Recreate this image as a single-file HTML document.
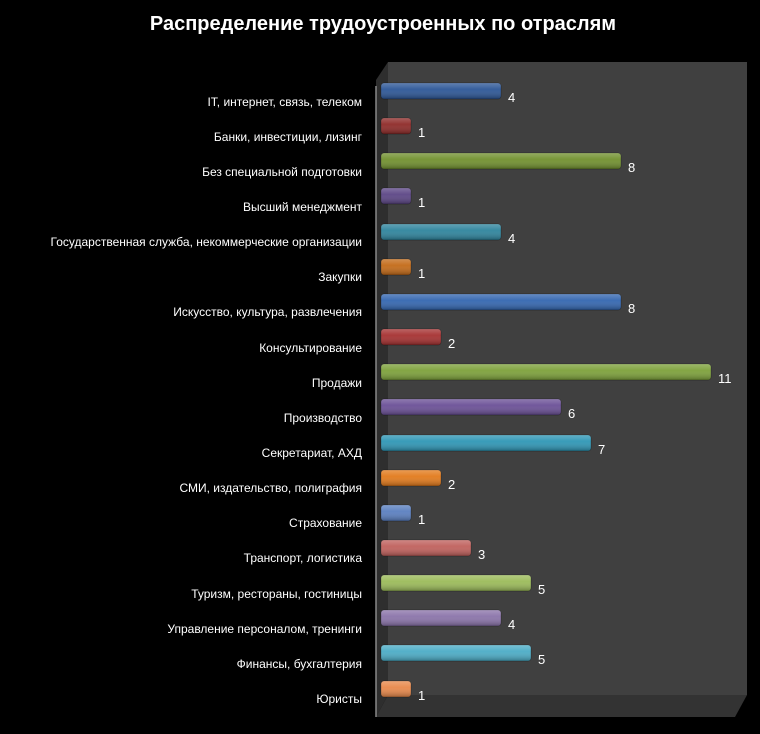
<!DOCTYPE html>
<html><head><meta charset="utf-8"><style>
body{margin:0;background:#000;}
svg{display:block;font-family:"Liberation Sans","DejaVu Sans",sans-serif;}
</style></head><body>
<svg width="760" height="734" viewBox="0 0 760 734" xmlns="http://www.w3.org/2000/svg">
<defs>
<linearGradient id="sh" x1="0" y1="0" x2="0" y2="1">
<stop offset="0" stop-color="#fff" stop-opacity="0.25"/>
<stop offset="0.4" stop-color="#fff" stop-opacity="0.05"/>
<stop offset="1" stop-color="#000" stop-opacity="0.3"/>
</linearGradient>
</defs>
<rect width="760" height="734" fill="#000"/>
<text x="383" y="30" fill="#fff" font-size="20" font-weight="bold" text-anchor="middle">Распределение трудоустроенных по отраслям</text>
<rect x="388" y="62" width="359" height="633" fill="#404040"/>
<polygon points="376,80 388,62 388,695 376,717" fill="#2e2e2e"/>
<polygon points="376,717 388,695 747,695 735,717" fill="#333"/>
<line x1="376" y1="86" x2="376" y2="717" stroke="#888" stroke-width="1.5"/>
<g stroke="#000" stroke-opacity="0.3" stroke-width="0.8">
<rect x="381" y="83" width="120" height="16" rx="3" fill="#2c5696"/>
<rect x="381" y="118" width="30" height="16" rx="3" fill="#8e2a28"/>
<rect x="381" y="153" width="240" height="16" rx="3" fill="#71902e"/>
<rect x="381" y="188" width="30" height="16" rx="3" fill="#5b4585"/>
<rect x="381" y="224" width="120" height="16" rx="3" fill="#2e849d"/>
<rect x="381" y="259" width="30" height="16" rx="3" fill="#c36a17"/>
<rect x="381" y="294" width="240" height="16" rx="3" fill="#3366b0"/>
<rect x="381" y="329" width="60" height="16" rx="3" fill="#a53030"/>
<rect x="381" y="364" width="330" height="16" rx="3" fill="#7da13a"/>
<rect x="381" y="399" width="180" height="16" rx="3" fill="#6a4f96"/>
<rect x="381" y="435" width="210" height="16" rx="3" fill="#2e96b5"/>
<rect x="381" y="470" width="60" height="16" rx="3" fill="#e27a1b"/>
<rect x="381" y="505" width="30" height="16" rx="3" fill="#5a7fc0"/>
<rect x="381" y="540" width="90" height="16" rx="3" fill="#c0605c"/>
<rect x="381" y="575" width="150" height="16" rx="3" fill="#9bbb59"/>
<rect x="381" y="610" width="120" height="16" rx="3" fill="#8a73a9"/>
<rect x="381" y="645" width="150" height="16" rx="3" fill="#4bacc6"/>
<rect x="381" y="681" width="30" height="16" rx="3" fill="#e8884a"/>
</g>
<g fill="url(#sh)">
<rect x="381" y="83" width="120" height="16" rx="3"/>
<rect x="381" y="118" width="30" height="16" rx="3"/>
<rect x="381" y="153" width="240" height="16" rx="3"/>
<rect x="381" y="188" width="30" height="16" rx="3"/>
<rect x="381" y="224" width="120" height="16" rx="3"/>
<rect x="381" y="259" width="30" height="16" rx="3"/>
<rect x="381" y="294" width="240" height="16" rx="3"/>
<rect x="381" y="329" width="60" height="16" rx="3"/>
<rect x="381" y="364" width="330" height="16" rx="3"/>
<rect x="381" y="399" width="180" height="16" rx="3"/>
<rect x="381" y="435" width="210" height="16" rx="3"/>
<rect x="381" y="470" width="60" height="16" rx="3"/>
<rect x="381" y="505" width="30" height="16" rx="3"/>
<rect x="381" y="540" width="90" height="16" rx="3"/>
<rect x="381" y="575" width="150" height="16" rx="3"/>
<rect x="381" y="610" width="120" height="16" rx="3"/>
<rect x="381" y="645" width="150" height="16" rx="3"/>
<rect x="381" y="681" width="30" height="16" rx="3"/>
</g>
<g font-size="13" fill="#fff">
<text x="508" y="102">4</text>
<text x="418" y="137">1</text>
<text x="628" y="172">8</text>
<text x="418" y="207">1</text>
<text x="508" y="243">4</text>
<text x="418" y="278">1</text>
<text x="628" y="313">8</text>
<text x="448" y="348">2</text>
<text x="718" y="383">11</text>
<text x="568" y="418">6</text>
<text x="598" y="454">7</text>
<text x="448" y="489">2</text>
<text x="418" y="524">1</text>
<text x="478" y="559">3</text>
<text x="538" y="594">5</text>
<text x="508" y="629">4</text>
<text x="538" y="664">5</text>
<text x="418" y="700">1</text>
</g>
<g font-size="12" fill="#fff" text-anchor="end">
<text x="362" y="106">IT, интернет, связь, телеком</text>
<text x="362" y="141">Банки, инвестиции, лизинг</text>
<text x="362" y="176">Без специальной подготовки</text>
<text x="362" y="211">Высший менеджмент</text>
<text x="362" y="246">Государственная служба, некоммерческие организации</text>
<text x="362" y="281">Закупки</text>
<text x="362" y="316">Искусство, культура, развлечения</text>
<text x="362" y="352">Консультирование</text>
<text x="362" y="387">Продажи</text>
<text x="362" y="422">Производство</text>
<text x="362" y="457">Секретариат, АХД</text>
<text x="362" y="492">СМИ, издательство, полиграфия</text>
<text x="362" y="527">Страхование</text>
<text x="362" y="562">Транспорт, логистика</text>
<text x="362" y="598">Туризм, рестораны, гостиницы</text>
<text x="362" y="633">Управление персоналом, тренинги</text>
<text x="362" y="668">Финансы, бухгалтерия</text>
<text x="362" y="703">Юристы</text>
</g>
</svg>
</body></html>
